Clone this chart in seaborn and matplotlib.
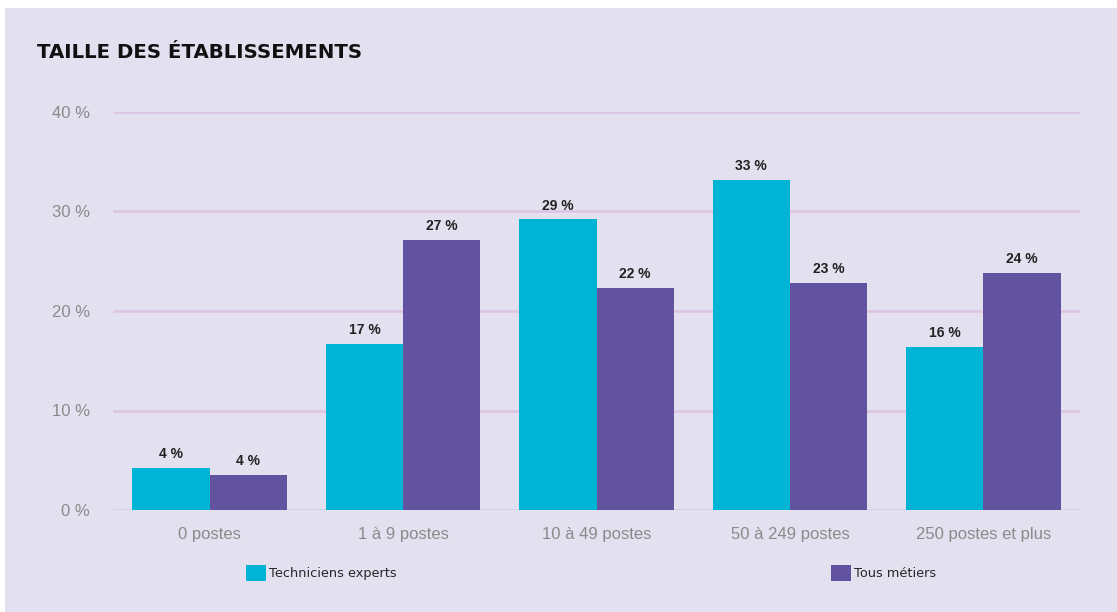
import pandas as pd
import matplotlib
matplotlib.use('Agg')
import matplotlib.pyplot as plt
import matplotlib.patches as mpatches
import seaborn as sns

# data
categories = ['0 postes', '1 à 9 postes', '10 à 49 postes', '50 à 249 postes', '250 postes et plus']
series = ['Techniciens experts', 'Tous métiers']
tech_values = [4.2, 16.7, 29.2, 33.2, 16.4]
tous_values = [3.5, 27.1, 22.3, 22.8, 23.8]
y_ticks = [0, 10, 20, 30, 40]

colors = ['#00b4d5', '#6153a0']
bg = '#e3e1f0'

df = pd.DataFrame({
    'taille': categories * 2,
    'serie': [series[0]] * len(categories) + [series[1]] * len(categories),
    'part': tech_values + tous_values,
})

sns.set_theme(style='white')
plt.rcParams['font.family'] = ['Liberation Sans', 'DejaVu Sans']

fig = plt.figure(figsize=(11.17, 6.12), dpi=100)
fig.patch.set_facecolor('white')
# lavender panel with thin white margin top / left
fig.patches.append(mpatches.Rectangle((5 / 1117, 0), 1, (612 - 8) / 612,
                                      transform=fig.transFigure, facecolor=bg,
                                      edgecolor='none', zorder=-10))

ax = fig.add_axes([113 / 1117, (612 - 510) / 612, (1080 - 113) / 1117, (510 - 112) / 612])
ax.set_facecolor('none')

sns.barplot(data=df, x='taille', y='part', hue='serie', palette=colors,
            width=0.8, saturation=1, linewidth=0, edgecolor='none', ax=ax, zorder=3)

handles, labels = ax.get_legend_handles_labels()
ax.get_legend().remove()

for cont in ax.containers:
    ax.bar_label(cont, labels=[f'{b.get_height():.0f} %' for b in cont],
                 padding=5, fontsize=10, fontweight='bold', color='#222222')

ax.set_ylim(0, 40)
ax.set_xlim(-0.5, len(categories) - 0.5)
ax.set_yticks(y_ticks)
ax.set_yticklabels([f'{t} %' for t in y_ticks])
ax.yaxis.grid(True, color='#dfc3e2', linewidth=1.8, zorder=0)
ax.set_axisbelow(True)
ax.axhline(0, color='#cdd3ea', linewidth=2, zorder=2)

ax.set_xlabel('')
ax.set_ylabel('')
for s in ax.spines.values():
    s.set_visible(False)
ax.tick_params(axis='both', length=0, labelsize=12, labelcolor='#8a8a8a')
ax.tick_params(axis='y', pad=16.5)
ax.tick_params(axis='x', pad=12)

fig.text(37 / 1117, 1 - 52 / 612, 'TAILLE DES ÉTABLISSEMENTS', fontsize=14.2,
         fontweight='bold', color='#111111', va='center', ha='left',
         family='DejaVu Sans')

# two legend entries placed apart, like the original
leg_font = {'family': 'DejaVu Sans', 'size': 9.3}
for i, x0 in enumerate([234, 819]):
    h = mpatches.Patch(facecolor=colors[i], edgecolor='none')
    fig.legend([h], [labels[i]], loc='center left',
               bbox_to_anchor=(x0 / 1117, 1 - 573 / 612), frameon=False,
               prop=leg_font, handlelength=1.55, handleheight=1.55,
               handletextpad=0.25)

fig.savefig('out.png', dpi=100, facecolor=fig.get_facecolor())
